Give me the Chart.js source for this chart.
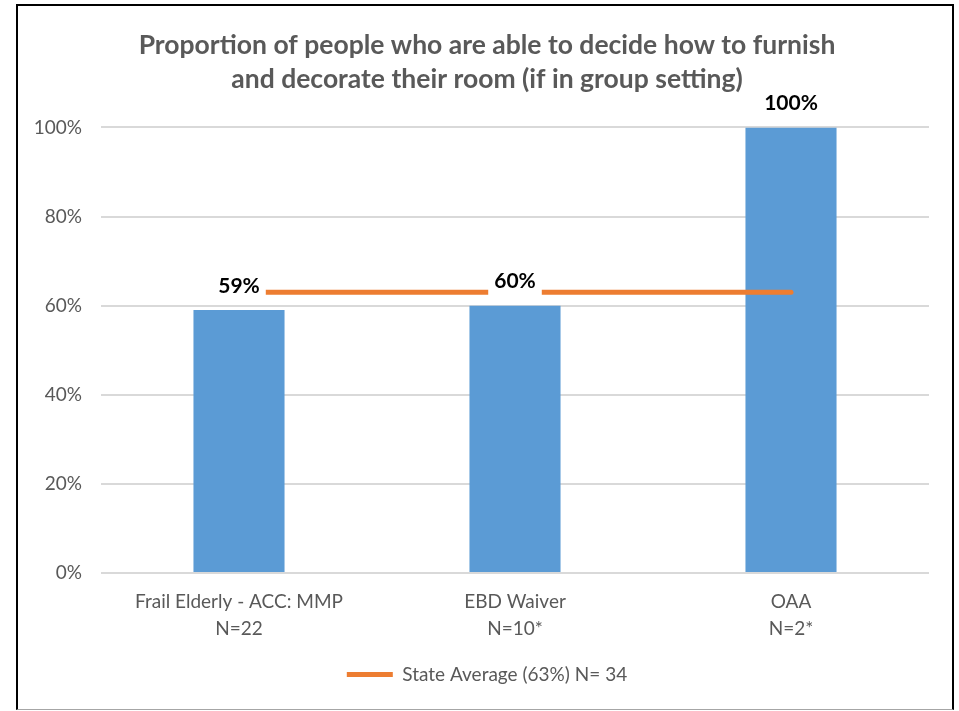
<!DOCTYPE html>
<html lang="en">
<head>
  <meta charset="UTF-8">
  <title>Room furnishing decision</title>
  <script src="https://cdn.jsdelivr.net/npm/chart.js"></script>
  <style>
    html, body { margin: 0; padding: 0; background: #fff; overflow: hidden; }
    .chart-wrap { position: absolute; left: 0; top: 0; width: 959px; height: 711px; }
    .frame {
      position: absolute; left: 16px; top: 4px; width: 938px; height: 706px;
      box-sizing: border-box; pointer-events: none;
      border-left: 2px solid #000; border-top: 2px solid #000; border-right: 2px solid #000;
      border-bottom: 1px solid #a6a6a6;
    }
  </style>
</head>
<body>
  <div class="chart-wrap"><canvas id="furnishChart"></canvas></div>
  <div class="frame"></div>

  <script>
    // chart data
    const categories = [['Frail Elderly - ACC: MMP', 'N=22'], ['EBD Waiver', 'N=10*'], ['OAA', 'N=2*']];
    const programValues = [59, 60, 100];
    const stateAverage = [63, 63, 63];
    const stateLabel = 'State Average (63%) N= 34';
    const yTicks = [0, 20, 40, 60, 80, 100];

    const FONT = 'Lato';
    const GREY = '#595959';

    // bold % labels above the bars, with white box behind them
    const barLabels = {
      id: 'barLabels',
      afterDatasetsDraw(chart) {
        const ctx = chart.ctx;
        const meta = chart.getDatasetMeta(1);
        ctx.save();
        ctx.font = 'bold 21px ' + FONT;
        ctx.textAlign = 'center';
        ctx.textBaseline = 'middle';
        meta.data.forEach((bar, i) => {
          const txt = programValues[i] + '%';
          const w = ctx.measureText(txt).width;
          const y = bar.y - 24;
          ctx.fillStyle = '#fff';
          ctx.fillRect(bar.x - w / 2 - 6, y - 14, w + 12, 29);
          ctx.fillStyle = '#000';
          ctx.fillText(txt, bar.x, y);
        });
        ctx.restore();
      }
    };

    const ctx = document.getElementById('furnishChart').getContext('2d');
    new Chart(ctx, {
      data: {
        labels: categories,
        datasets: [
          {
            type: 'line',
            label: stateLabel,
            data: stateAverage,
            borderColor: '#ED7D31',
            backgroundColor: '#ED7D31',
            borderWidth: 5,
            borderCapStyle: 'round',
            pointRadius: 0,
            pointStyle: 'line',
            order: 0
          },
          {
            type: 'bar',
            label: 'Program',
            data: programValues,
            backgroundColor: '#5B9BD5',
            categoryPercentage: 1,
            barPercentage: 0.33,
            order: 1
          }
        ]
      },
      options: {
        responsive: true,
        maintainAspectRatio: false,
        animation: false,
        layout: { padding: { left: 30, right: 15, top: 0, bottom: 17 } },
        plugins: {
          tooltip: { enabled: false },
          title: {
            display: true,
            text: ['Proportion of people who are able to decide how to furnish', 'and decorate their room (if in group setting)'],
            color: GREY,
            font: { family: FONT, size: 26.5, weight: 'bold', lineHeight: 1.3 },
            padding: { top: 28, bottom: 30.5 }
          },
          legend: {
            position: 'bottom',
            labels: {
              filter: item => item.datasetIndex === 0,
              usePointStyle: true,
              pointStyleWidth: 46,
              color: GREY,
              font: { family: FONT, size: 19 },
              padding: 10
            }
          }
        },
        scales: {
          x: {
            grid: { display: false },
            border: { display: false },
            ticks: { color: GREY, font: { family: FONT, size: 19, lineHeight: 1.42 }, padding: 7 },
            afterFit: s => { s.height = 82; }
          },
          y: {
            min: 0,
            max: 100,
            afterBuildTicks: s => { s.ticks = yTicks.map(v => ({ value: v })); },
            grid: { color: '#d9d9d9', lineWidth: 2, drawTicks: false },
            border: { display: false },
            ticks: { color: GREY, font: { family: FONT, size: 19 }, padding: 19, callback: v => v + '%' },
            afterFit: s => { s.width = 71; }
          },
          // empty right-hand gutter so the title and legend centre on the frame
          gutter: {
            position: 'right',
            min: 0,
            max: 100,
            grid: { display: false },
            border: { display: false },
            ticks: { display: false },
            afterFit: s => { s.width = 15; }
          }
        }
      },
      plugins: [barLabels]
    });
  </script>
</body>
</html>
